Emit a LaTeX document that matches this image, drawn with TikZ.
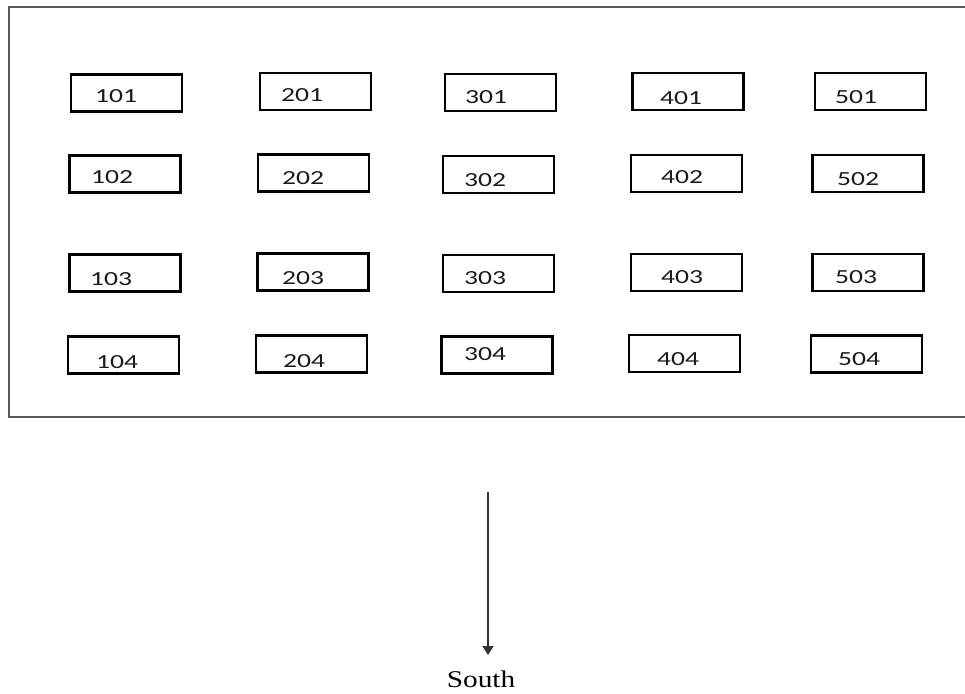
\documentclass[tikz,border=0pt]{standalone}
\usepackage{fontspec}
\setmainfont{Liberation Serif}
\newfontfamily\numfont{Carlito}
\usetikzlibrary{arrows.meta}
\begin{document}
\begin{tikzpicture}[x=1pt,y=-1pt,
  roombox/.style={draw=black,line width=2.4pt,minimum width=111pt,minimum height=37pt,inner sep=0pt},
  roomlabel/.style={inner sep=0pt,font=\numfont\fontsize{20}{20}\selectfont,text=black!90},
  frame/.style={draw=black!65,line width=1.4pt}]
\useasboundingbox (0,0) rectangle (965,693);
\draw[frame] (975,7) -- (9,7) -- (9,417) -- (975,417);
\foreach \n/\bx/\by/\tx/\ty in {
  101/126.5/93/116/96, 201/315.5/91.5/302/95, 301/500.5/92.5/486/97, 401/688/91.5/681/98, 501/870.5/91.5/856/97,
  102/125/174/112/177, 202/313.5/173/303/178, 302/498.5/174.5/485/180, 402/686.5/173.5/682/177, 502/868/173.5/858/179,
  103/125/273/111/279, 203/313/272/303/278, 303/498.5/273.5/485/278, 403/686.5/272.5/682/277, 503/868/272.5/856/277,
  104/123.5/355/117/362, 204/311.5/354/304/361, 304/497/355/485/354, 404/684.5/353.5/678/359, 504/866.5/354/859/359}{
  \node[roombox] (b\n) at (\bx,\by) {};
  \node[roomlabel] (t\n) at (\tx,\ty) {\scalebox{1.38}[1]{\n}};
}
\coordinate (arrtop) at (488,492);
\node[inner sep=0pt,font=\fontsize{24}{24}\selectfont] (south) at (481,679.5) {\scalebox{1.22}[1]{South}};
\coordinate (arrtip) at (488,655);
\draw[line width=1.3pt,black!80,-{Triangle[width=11pt,length=9pt]}] (arrtop) -- (arrtip);
\end{tikzpicture}
\end{document}
